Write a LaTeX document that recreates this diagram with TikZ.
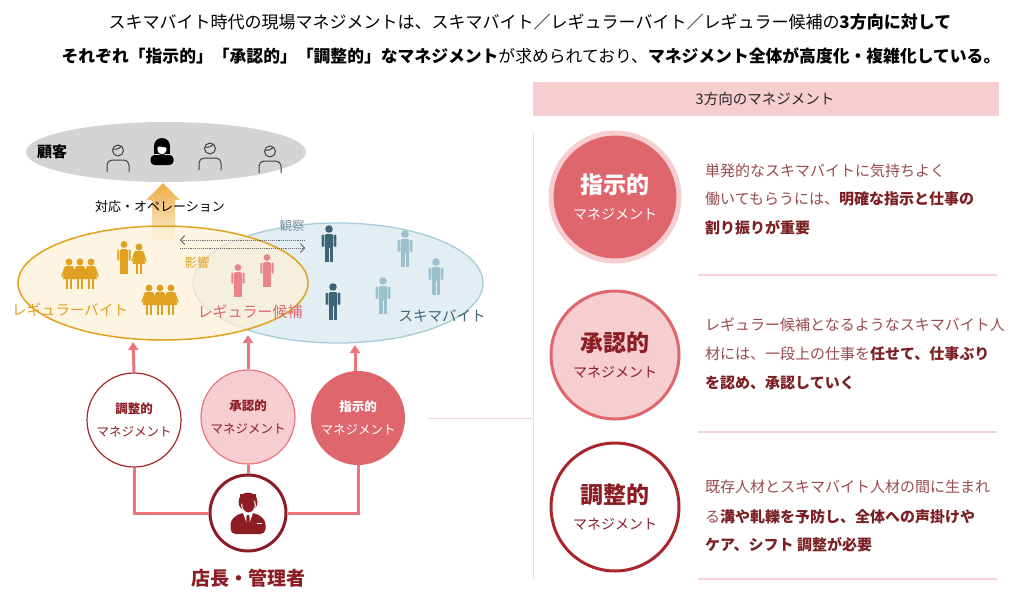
\documentclass[tikz,border=0pt]{standalone}
\usepackage{fontspec}
\setmainfont{Noto Sans CJK JP}
\usetikzlibrary{arrows.meta}
\definecolor{deepred}{HTML}{8C1D24}
\definecolor{adjred}{HTML}{A8262C}
\definecolor{coral}{HTML}{E0666D}
\definecolor{softpink}{HTML}{F6CDD0}
\definecolor{linkpink}{HTML}{E8767C}
\definecolor{panelpink}{HTML}{F5D3D6}
\definecolor{txtred}{HTML}{9A4A4E}
\definecolor{boldred}{HTML}{7A1F22}
\definecolor{gold}{HTML}{E0A020}
\definecolor{goldfill}{HTML}{FDF0D6}
\definecolor{teal}{HTML}{3E6577}
\definecolor{skyblue}{HTML}{9DC0CE}
\definecolor{bluefill}{HTML}{E3EEF3}
\definecolor{blueedge}{HTML}{A9CBD8}
\definecolor{custgray}{HTML}{D4D4D4}
\newcommand\fsz[1]{\fontsize{#1}{#1}\selectfont}
\tikzset{
  man/.pic={
    \fill (0,-15) circle (3.8);
    \fill[rounded corners=1.5] (-4.3,-10) rectangle (4.3,4);
    \fill (-4.3,2) rectangle (-0.5,18); \fill (0.5,2) rectangle (4.3,18);
    \fill[rounded corners=1] (-7.3,-9.5) rectangle (-5.1,3);
    \fill[rounded corners=1] (5.1,-9.5) rectangle (7.3,3);
  },
  woman/.pic={
    \fill (0,-12) circle (3.5);
    \fill (-3.2,-8) -- (3.2,-8) -- (6.2,5) -- (-6.2,5) -- cycle;
    \fill (-3.2,5) rectangle (-1,15); \fill (1,5) rectangle (3.2,15);
    \draw[line width=1.8,line cap=round] (-3.6,-7) -- (-6.8,2) (3.6,-7) -- (6.8,2);
  },
  guest/.pic={
    \draw[line width=1] (0,-6.5) circle (5.5);
    \draw[line width=1] (-5.2,-8) .. controls (-1,-7) and (2,-9) .. (3.8,-11);
    \draw[line width=1,rounded corners=5] (-11,15) -- (-11,3) -- (11,3) -- (11,15);
  },
  lcirc/.style={circle,minimum size=94pt,inner sep=0pt,align=center,font=\fsz{12.5}},
  rcirc/.style={circle,minimum size=128pt,inner sep=0pt,align=center},
  uparr/.style={draw=linkpink,line width=3,-{Triangle[width=10pt,length=8pt]}},
  link/.style={draw=linkpink,line width=3},
  sepline/.style={draw=panelpink,line width=1.2},
  desc/.style={anchor=west,inner sep=0pt,font=\fsz{15},text=txtred},
}
\begin{document}
\begin{tikzpicture}[x=1pt,y=-1pt]
\useasboundingbox (0,0) rectangle (1020,600);
% heading
\node[font=\fsz{17}] (head1) at (530,22) {スキマバイト時代の現場マネジメントは、スキマバイト／レギュラーバイト／レギュラー候補の\textbf{3方向に対して}};
\node[font=\fsz{16.8}] (head2) at (531,56) {\textbf{それぞれ「指示的」「承認的」「調整的」なマネジメント}が求められており、\textbf{マネジメント全体が高度化・複雑化している。}};
% customers
\fill[custgray] (166,152) ellipse (140 and 30);
\node[font=\fsz{15}\bfseries] (guests) at (52,152) {顧客};
\foreach \x/\y in {118/157,210/155,270/158}\pic[black!75] at (\x,\y) {guest};
\begin{scope}[shift={(162,152)}]
\fill[rounded corners=4] (-11.5,13) -- (-11.5,3) -- (11.5,3) -- (11.5,13) -- cycle;
\fill (0,-6) circle (8);
\fill (-8,-6) rectangle (8,2);
\filldraw[fill=white,draw=black,line width=.8] (0,-3) ellipse (5 and 6);
\fill (-5.5,-9.5) -- (5.5,-9.5) -- (5.5,-4) .. controls (2,-5) and (-2,-6) .. (-5.5,-5) -- cycle;
\end{scope}
% operation arrow
\shade[top color=gold!70!orange!80,bottom color=goldfill] (152,240) -- (152,200) -- (146,200) -- (163,183) -- (180,200) -- (175,200) -- (175,240) -- cycle;
% groups
\fill[bluefill,draw=blueedge,line width=1.3] (338,283) ellipse (145 and 60);
\path[fill=goldfill,fill opacity=.7,draw=gold,line width=1.5] (163,283) ellipse (145 and 57);
\node[font=\fsz{13}] (oper) at (160,207) {対応・オペレーション};
\foreach \x in {-11,11,0}\pic[gold] at (80+\x,274) {woman};
\foreach \x in {-11,11,0}\pic[gold] at (160+\x,300) {woman};
\pic[gold,scale=.9] at (124,258) {man};
\pic[gold] at (139,259) {woman};
\foreach \x/\y in {238/281,267/271}\pic[linkpink!90!white,scale=.9] at (\x,\y) {man};
\foreach \x/\y in {329/244,333/302}\pic[teal] at (\x,\y) {man};
\foreach \x/\y in {405/249,383/296,436/277}\pic[skyblue] at (\x,\y) {man};
\coordinate (obsL) at (180,240);
\coordinate (obsR) at (305,240);
\coordinate (infL) at (180,248);
\coordinate (infR) at (305,248);
\draw[black!60,densely dotted,line width=.9,-{Straight Barb[length=4pt,width=9pt]}] (obsR) -- (obsL);
\draw[black!60,densely dotted,line width=.9,-{Straight Barb[length=4pt,width=9pt]}] (infL) -- (infR);
\node[font=\fsz{12.5},text=teal!70] (watch) at (292,226) {観察};
\node[font=\fsz{12.5},text=gold] (sway) at (197,263) {影響};
\node[font=\fsz{14.5},text=gold] (regular) at (70,310) {レギュラーバイト};
\node[font=\fsz{15},text=coral] (cand) at (250,312) {レギュラー候補};
\node[font=\fsz{14.5},text=teal] (spot) at (442,316) {スキマバイト};
% management circles
\node[lcirc,fill=white,draw=adjred,line width=1.2,text=deepred] (cAdj) at (134,420) {\textbf{調整的}\\[11pt]マネジメント};
\node[lcirc,fill=softpink,draw=linkpink,line width=1.2,text=deepred] (cApp) at (248,417) {\textbf{承認的}\\[11pt]マネジメント};
\node[lcirc,fill=coral,text=white] (cDir) at (358,418) {\textbf{指示的}\\[11pt]マネジメント};
\coordinate (tAdj) at (133,342);
\coordinate (tApp) at (248,335);
\coordinate (tDir) at (355,345);
\draw[uparr] (cAdj.north) -- (tAdj);
\draw[uparr] (cApp.north) -- (tApp);
\draw[uparr] (cDir.north -| tDir) -- (tDir);
% manager
\node[circle,minimum size=76pt,inner sep=0pt,draw=deepred,line width=3,fill=white] (mgr) at (248,513) {};
\draw[link] (cAdj.south) |- (mgr.west);
\draw[link] (cApp.south) -- (mgr.north);
\draw[link] (cDir.south) |- (mgr.east);
\begin{scope}[shift={(mgr.center)}]
\fill[deepred,rounded corners=5] (-17.5,21) -- (-17.5,7) -- (-8,0) -- (8,0) -- (17.5,7) -- (17.5,21) -- cycle;
\fill[white] (-5,0) -- (5,0) -- (0,14) -- cycle;
\fill[deepred] (-1.4,2) -- (1.4,2) -- (2,15) -- (0,18) -- (-2,15) -- cycle;
\fill[white] (9,9.5) rectangle (14,11);
\fill[deepred] (0,-11) circle (9.5);
\filldraw[fill=deepred,draw=white,line width=1] (0.5,-8) ellipse (6.8 and 8);
\fill[deepred] (-8,-19) -- (8,-19) -- (8,-12) -- (2,-13) -- (-7,-9) -- cycle;
\end{scope}
\node[font=\fsz{19}\bfseries,text=deepred] (mgrname) at (248,578) {店長・管理者};
% right panel
\fill[softpink] (533,82) rectangle (999,116);
\node[font=\fsz{14.5},text=black!85] (paneltitle) at (765,99) {3方向のマネジメント};
\draw[draw=panelpink,line width=1] (533,133) -- (533,578);
\coordinate (panelL) at (533,418);
\draw[draw=panelpink,line width=1] ([xshift=23pt]cDir.east) -- (panelL);
\draw[sepline] (698,275) -- (997,275);
\draw[sepline] (698,432) -- (997,432);
\draw[sepline] (698,579) -- (997,579);
\node[rcirc,fill=coral,draw=softpink,line width=5,text=white] (rDir) at (615,197) {\fsz{23}\textbf{指示的}\\[12pt]\fsz{14}マネジメント};
\node[rcirc,fill=softpink,draw=coral,line width=3,text=deepred] (rApp) at (615,355) {\fsz{23}\textbf{承認的}\\[12pt]\fsz{14}マネジメント};
\node[rcirc,fill=white,draw=adjred,line width=3,text=deepred] (rAdj) at (615,507) {\fsz{23}\textbf{調整的}\\[12pt]\fsz{14}マネジメント};
\node[desc] (d1a) at (705,171) {単発的なスキマバイトに気持ちよく};
\node[desc] (d1b) at (705,199) {働いてもらうには、\textcolor{boldred}{\textbf{明確な指示と仕事の}}};
\node[desc,text=boldred,font=\fsz{15}\bfseries] (d1c) at (705,228) {割り振りが重要};
\node[desc] (d2a) at (705,325) {レギュラー候補となるようなスキマバイト人};
\node[desc] (d2b) at (705,354) {材には、一段上の仕事を\textcolor{boldred}{\textbf{任せて、仕事ぶり}}};
\node[desc,text=boldred,font=\fsz{15}\bfseries] (d2c) at (705,383) {を認め、承認していく};
\node[desc] (d3a) at (705,487) {既存人材とスキマバイト人材の間に生まれ};
\node[desc] (d3b) at (705,517) {る\textcolor{boldred}{\textbf{溝や軋轢を予防し、全体への声掛けや}}};
\node[desc,text=boldred,font=\fsz{15}\bfseries] (d3c) at (705,545) {ケア、シフト 調整が必要};
\end{tikzpicture}
\end{document}
